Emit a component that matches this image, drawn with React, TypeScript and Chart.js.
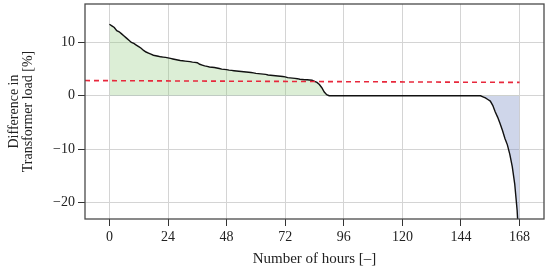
import React, { useEffect, useRef } from "react";
import { Chart, registerables } from "chart.js";

Chart.register(...registerables);

// Sorted difference in transformer load per hour (duration curve)
const hourValues: number[] = [
  13.4, 13.1, 12.8, 12.2, 12.0, 11.6, 11.2, 10.8, 10.4, 10.0,
  9.8, 9.5, 9.2, 8.9, 8.5, 8.2, 8.0, 7.8, 7.6, 7.5,
  7.4, 7.3, 7.25, 7.2, 7.1, 7.0, 6.9, 6.8, 6.7, 6.6,
  6.55, 6.5, 6.45, 6.4, 6.3, 6.25, 6.2, 5.9, 5.75, 5.6,
  5.5, 5.4, 5.35, 5.3, 5.2, 5.1, 5.0, 4.95, 4.9, 4.8,
  4.75, 4.7, 4.65, 4.6, 4.55, 4.5, 4.45, 4.4, 4.35, 4.3,
  4.2, 4.15, 4.1, 4.05, 4.0, 3.9, 3.85, 3.8, 3.75, 3.7,
  3.65, 3.6, 3.55, 3.4, 3.35, 3.3, 3.25, 3.2, 3.1, 3.05,
  3.0, 3.0, 2.95, 2.9, 2.7, 2.5, 2.1, 1.5, 0.7, 0.2,
  0, 0, 0, 0, 0, 0, 0, 0, 0, 0,
  0, 0, 0, 0, 0, 0, 0, 0, 0, 0,
  0, 0, 0, 0, 0, 0, 0, 0, 0, 0,
  0, 0, 0, 0, 0, 0, 0, 0, 0, 0,
  0, 0, 0, 0, 0, 0, 0, 0, 0, 0,
  0, 0, 0, 0, 0, 0, 0, 0, 0, 0,
  0, 0, 0, -0.2, -0.4, -0.7, -1.0, -1.8, -3.0, -4.0,
  -5.2, -6.5, -8.0, -9.2, -11.0, -13.3, -16.5, -21.5, -30.0,
];

// Mean line (red dashed), endpoints
const meanHours: number[] = [-10, 168];
const meanValues: number[] = [2.85, 2.5];

const xTickValues: number[] = [0, 24, 48, 72, 96, 120, 144, 168];
const yTickValues: number[] = [-20, -10, 0, 10];

const xTitle = "Number of hours [–]";
const yTitle: string[] = ["Difference in", "Transformer load [%]"];

const FONT = "'Liberation Serif', 'DejaVu Serif', serif";

const boxPlugin = {
  id: "boxPlugin",
  afterDraw(chart: any) {
    const { ctx, chartArea } = chart;
    ctx.save();
    ctx.strokeStyle = "#4a4a4a";
    ctx.lineWidth = 1.3;
    ctx.strokeRect(
      chartArea.left,
      chartArea.top,
      chartArea.right - chartArea.left,
      chartArea.bottom - chartArea.top
    );
    ctx.restore();
  },
};

export default function App() {
  const canvasRef = useRef<HTMLCanvasElement | null>(null);

  useEffect(() => {
    if (!canvasRef.current) return;
    const curve = hourValues.map((v, i) => ({ x: i, y: v }));
    const mean = meanHours.map((h, i) => ({ x: h, y: meanValues[i] }));

    const chart = new Chart(canvasRef.current, {
      type: "line",
      data: {
        datasets: [
          {
            data: mean,
            borderColor: "#e8283c",
            borderWidth: 1.6,
            borderDash: [5, 4],
            pointRadius: 0,
            fill: false,
          },
          {
            data: curve,
            borderColor: "#111111",
            borderWidth: 1.4,
            pointRadius: 0,
            tension: 0,
            fill: {
              target: { value: 0 },
              above: "rgba(140, 200, 120, 0.3)",
              below: "rgba(110, 130, 190, 0.33)",
            },
          },
        ],
      },
      options: {
        animation: false,
        responsive: false,
        maintainAspectRatio: false,
        layout: { padding: { top: 4, right: 6, left: 0, bottom: 0 } },
        plugins: {
          legend: { display: false },
          tooltip: { enabled: false },
        },
        scales: {
          x: {
            type: "linear",
            min: -10,
            max: 178,
            afterBuildTicks: (scale: any) => {
              scale.ticks = xTickValues.map((v) => ({ value: v }));
            },
            afterFit: (scale: any) => {
              scale.height = 54;
              scale.paddingLeft = 0;
              scale.paddingRight = 0;
            },
            grid: {
              color: "#d4d4d4",
              lineWidth: 1,
              tickColor: "#333333",
              tickLength: 7,
              drawTicks: true,
            },
            border: { display: false },
            ticks: {
              color: "#222222",
              font: { family: FONT, size: 14 },
              padding: 3,
              maxRotation: 0,
              autoSkip: false,
              callback: (v: any) => String(v),
            },
            title: {
              display: true,
              text: xTitle,
              color: "#222222",
              font: { family: FONT, size: 15 },
              padding: { top: 0, bottom: 5 },
            },
          },
          y: {
            type: "linear",
            min: -23.1,
            max: 17.2,
            afterBuildTicks: (scale: any) => {
              scale.ticks = yTickValues.map((v) => ({ value: v }));
            },
            afterFit: (scale: any) => {
              scale.width = 85;
              scale.paddingTop = 0;
              scale.paddingBottom = 0;
            },
            grid: {
              color: "#d4d4d4",
              lineWidth: 1,
              tickColor: "#333333",
              tickLength: 7,
              drawTicks: true,
            },
            border: { display: false },
            ticks: {
              color: "#222222",
              font: { family: FONT, size: 14 },
              padding: 3,
              autoSkip: false,
              callback: (v: any) => String(v).replace("-", "\u2212"),
            },
            title: {
              display: true,
              text: yTitle,
              color: "#222222",
              font: { family: FONT, size: 14, lineHeight: 1 },
              padding: { top: 7, bottom: 0 },
            },
          },
        },
      },
      plugins: [boxPlugin],
    });
    return () => chart.destroy();
  }, []);

  return (
    <div style={{ position: "absolute", left: 0, top: 0, width: 550, height: 273, background: "#ffffff" }}>
      <canvas ref={canvasRef} width={550} height={273} />
    </div>
  );
}
